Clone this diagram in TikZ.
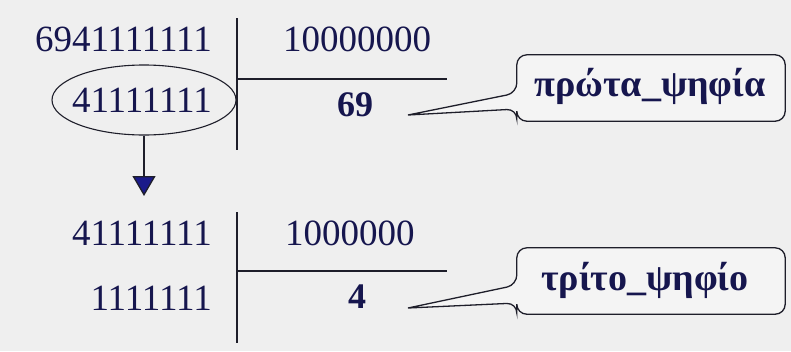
\documentclass[tikz,border=0pt]{standalone}
\usepackage{fontspec}
\setmainfont{Liberation Serif}
\usetikzlibrary{arrows.meta,shapes.geometric,calc}
\definecolor{bg}{HTML}{EFEFEF}
\definecolor{boxbg}{HTML}{F4F4F4}
\definecolor{ink}{HTML}{16164E}
\definecolor{rule}{HTML}{1E1E2A}
\definecolor{arrowfill}{HTML}{1A1A8A}
\tikzset{
  num/.style={inner sep=0pt, text=ink, font=\fontsize{37}{37}\selectfont},
  res/.style={inner sep=0pt, text=ink, font=\fontsize{36}{36}\selectfont\bfseries},
  rulel/.style={draw=rule, line width=1.3pt},
  callbox/.style={inner sep=0pt, minimum width=268pt, minimum height=66pt},
  calltext/.style={inner sep=0pt, text=ink, font=\fontsize{38}{38}\selectfont\bfseries},
  callout/.style={draw=rule, line width=1.3pt, fill=boxbg, rounded corners=10pt},
  ellip/.style={ellipse, draw=rule, line width=1.1pt, minimum width=184pt, minimum height=70pt, inner sep=0pt},
  downarrow/.style={draw=rule, line width=1.3pt, -{Triangle[width=23pt,length=20pt,fill=arrowfill]}}
}
\begin{document}
\begin{tikzpicture}[x=1pt,y=-1pt]
\fill[bg] (0,0) rectangle (791,351);
\useasboundingbox (0,0) rectangle (791,351);

% first division
\node[ellip] (e1) at (144,100) {};
\node[num, anchor=east] (d1) at (212,39) {6941111111};
\node[num, anchor=east] (r1) at (212,100) {41111111};
\node[num, anchor=west] (s1) at (283,39) {10000000};
\node[res] (q1) at (355,105) {69};
\coordinate (v1t) at (237,18);
\coordinate (v1b) at (237,150);
\coordinate (h1l) at (237,79);
\coordinate (h1r) at (447,79);
\draw[rulel] (v1t) -- (v1b);
\draw[rulel] (h1l) -- (h1r);

% callout 1
\node[callbox] (c1) at (651,88) {};
\coordinate (t1) at (408,115);
\draw[callout] (t1) -- ([yshift=-5pt]c1.west) -- (c1.north west) -- (c1.north east) -- (c1.south east) -- (c1.south west) -- ([yshift=-21pt]c1.west) [sharp corners] -- cycle;
\node[calltext] (c1t) at (650,86) {πρώτα\_ψηφία};

% arrow
\coordinate (a1) at (144,196);
\draw[downarrow] (e1.south) -- (a1);

% second division
\node[num, anchor=east] (d2) at (212,233) {41111111};
\node[num, anchor=east] (r2) at (212,298) {1111111};
\node[num, anchor=west] (s2) at (285,233) {1000000};
\node[res] (q2) at (357,297) {4};
\coordinate (v2t) at (237,212);
\coordinate (v2b) at (237,343);
\coordinate (h2l) at (237,271);
\coordinate (h2r) at (447,271);
\draw[rulel] (v2t) -- (v2b);
\draw[rulel] (h2l) -- (h2r);

% callout 2
\node[callbox] (c2) at (651,281) {};
\coordinate (t2) at (408,308);
\draw[callout] (t2) -- ([yshift=-4pt]c2.west) -- (c2.north west) -- (c2.north east) -- (c2.south east) -- (c2.south west) -- ([yshift=-22pt]c2.west) [sharp corners] -- cycle;
\node[calltext] (c2t) at (645,280) {τρίτο\_ψηφίο};
\end{tikzpicture}
\end{document}
